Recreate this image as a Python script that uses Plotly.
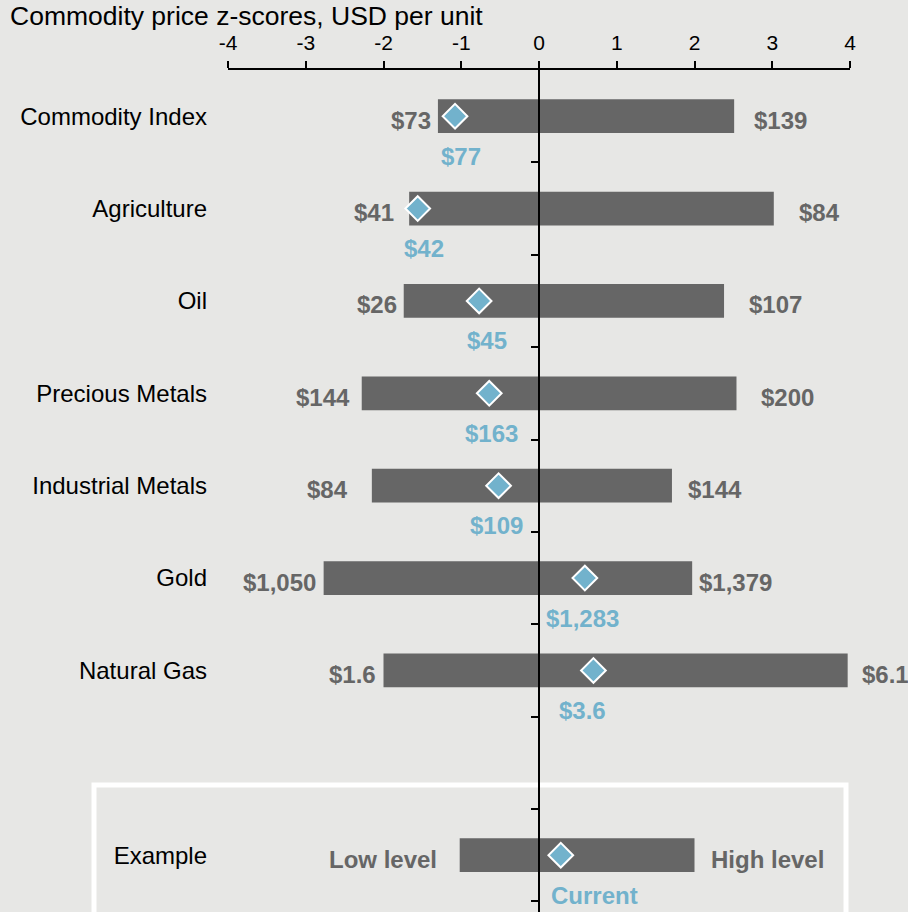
import plotly.graph_objects as go

# ---------------- data ----------------
categories = ["Commodity Index", "Agriculture", "Oil", "Precious Metals",
              "Industrial Metals", "Gold", "Natural Gas", "Example"]
low_z = [-1.30, -1.67, -1.74, -2.28, -2.15, -2.77, -2.00, -1.02]
high_z = [2.51, 3.02, 2.38, 2.54, 1.71, 1.97, 3.97, 2.00]
current_z = [-1.08, -1.56, -0.77, -0.64, -0.52, 0.59, 0.70, 0.28]
low_text = ["$73", "$41", "$26", "$144", "$84", "$1,050", "$1.6", "Low level"]
high_text = ["$139", "$84", "$107", "$200", "$144", "$1,379", "$6.1", "High level"]
current_text = ["$77", "$42", "$45", "$163", "$109", "$1,283", "$3.6", "Current"]
x_ticks = [-4, -3, -2, -1, 0, 1, 2, 3, 4]
title_text = "Commodity price z-scores, USD per unit"

# ---------------- styling / layout helpers ----------------
FONT = "Liberation Sans, Arial, Helvetica, sans-serif"
BG = "#e7e7e5"
BAR = "#666666"
GRAY_TXT = "#666666"
BLUE = "#72b2cc"

W, H = 908, 912
ML, MR, MT, MB = 228, 58, 70, 0
# row slots: example sits after one empty slot
rows = list(range(len(categories) - 1)) + [len(categories)]
y_range = [8.615, -0.5]
boundaries = [r + 0.5 for r in range(rows[-1] + 1)]

# per-label fine placement (pixels)
low_gap = [5, 13, 5, 10, 22, 6, 6, 21]
high_gap = [18, 23, 23, 23, 14, 5, 12, 14]
cur_nudge = [6, 6, 8, 2, -2, -2, -11, 34]


def px_to_paper_x(px):
    return (px - ML) / (W - ML - MR)


def px_to_paper_y(py):
    return (H - MB - py) / (H - MT - MB)


fig = go.Figure()

fig.add_trace(go.Bar(
    orientation="h",
    y=rows,
    base=low_z,
    x=[h - l for h, l in zip(high_z, low_z)],
    width=0.365,
    marker=dict(color=BAR, line=dict(width=0)),
    hoverinfo="skip",
))

fig.add_trace(go.Scatter(
    x=current_z, y=rows, mode="markers",
    marker=dict(symbol="diamond", size=19, color=BLUE,
                line=dict(color="white", width=2)),
    hoverinfo="skip", cliponaxis=False,
))

# invisible trace to bind the centre (zero) axis
fig.add_trace(go.Scatter(x=[None], y=[None], yaxis="y2", showlegend=False,
                         hoverinfo="skip"))

annotations = []
for i, r in enumerate(rows):
    annotations.append(dict(
        x=low_z[i], y=r, xref="x", yref="y", text=low_text[i], showarrow=False,
        xanchor="right", yanchor="middle", xshift=-low_gap[i], yshift=-4,
        font=dict(family=FONT, size=24, color=GRAY_TXT, weight="bold")))
    annotations.append(dict(
        x=high_z[i], y=r, xref="x", yref="y", text=high_text[i], showarrow=False,
        xanchor="left", yanchor="middle", xshift=high_gap[i], yshift=-4,
        font=dict(family=FONT, size=24, color=GRAY_TXT, weight="bold")))
    annotations.append(dict(
        x=current_z[i], y=r, xref="x", yref="y", text=current_text[i],
        showarrow=False, xanchor="center", yanchor="middle",
        xshift=cur_nudge[i], yshift=-40,
        font=dict(family=FONT, size=24, color=BLUE, weight="bold")))

annotations.append(dict(
    x=px_to_paper_x(8), y=px_to_paper_y(16), xref="paper", yref="paper",
    text=title_text, showarrow=False, xanchor="left", yanchor="middle",
    font=dict(family=FONT, size=26.5, color="black")))

shapes = [dict(
    type="rect", xref="paper", yref="paper", layer="below",
    x0=px_to_paper_x(94), x1=px_to_paper_x(846),
    y0=px_to_paper_y(785), y1=px_to_paper_y(960),
    line=dict(color="white", width=5), fillcolor="rgba(0,0,0,0)")]

fig.update_layout(
    width=W, height=H,
    margin=dict(l=ML, r=MR, t=MT, b=MB, pad=0),
    paper_bgcolor=BG, plot_bgcolor=BG,
    showlegend=False, hovermode=False,
    annotations=annotations, shapes=shapes,
    xaxis=dict(
        range=[-4, 4], side="top", tickvals=x_ticks,
        ticktext=[str(t) for t in x_ticks],
        showline=True, linecolor="black", linewidth=2,
        ticks="outside", ticklen=7, tickwidth=2, tickcolor="black",
        tickfont=dict(family=FONT, size=21, color="black"),
        showgrid=False, zeroline=False, fixedrange=True,
        ticklabelstandoff=3,
    ),
    yaxis=dict(
        range=y_range, autorange=False,
        tickvals=rows, ticktext=categories,
        ticks="", showline=False, showgrid=False, zeroline=False,
        tickfont=dict(family=FONT, size=24, color="black"),
        ticklabelstandoff=20, fixedrange=True,
    ),
    yaxis2=dict(
        range=y_range, autorange=False, overlaying="y", anchor="free",
        position=0.5, side="left",
        tickvals=boundaries, showticklabels=False,
        ticks="outside", ticklen=7, tickwidth=2, tickcolor="black",
        showline=True, linecolor="black", linewidth=2,
        showgrid=False, zeroline=False, fixedrange=True,
    ),
)

fig.write_html(
    "out.html",
    config={"displayModeBar": False},
    post_script=("document.body.style.margin='0';"
                 "document.body.style.background='" + BG + "';"
                 "document.body.style.overflow='hidden';"),
)
